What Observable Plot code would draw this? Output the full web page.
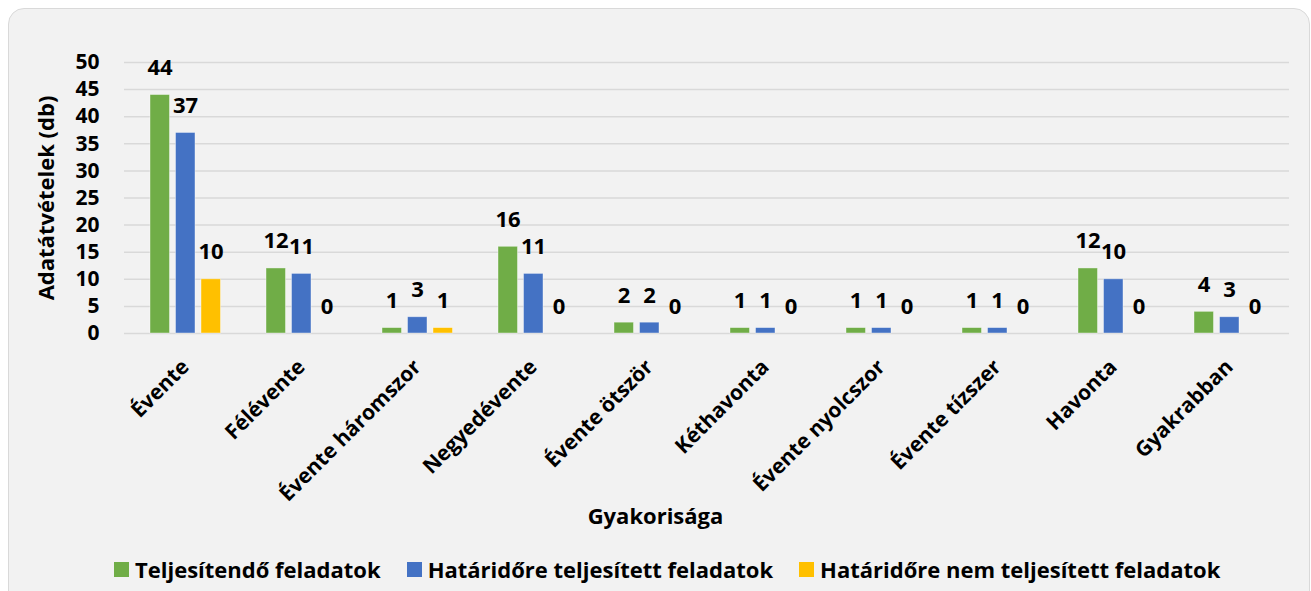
<!DOCTYPE html>
<html>
<head>
<meta charset="utf-8">
<script src="https://cdn.jsdelivr.net/npm/d3@7"></script>
<script src="https://cdn.jsdelivr.net/npm/@observablehq/plot@0.6"></script>
<style>
  html, body { margin: 0; padding: 0; background: #ffffff; width: 1311px; height: 591px; overflow: hidden; }
  #card { position: absolute; left: 8px; top: 8px; width: 1302px; height: 620px; box-sizing: border-box;
          border: 1px solid #d9d9d9; border-radius: 16px; background: #f2f2f2; }
  #chart { position: absolute; left: 0; top: 0; }
  #chart svg { background: transparent; overflow: visible; }
  #xtitle { position: absolute; left: 0; width: 1311px; top: 500px; text-align: center; line-height: 30px;
            font-family: "Open Sans", sans-serif; font-weight: 700; font-size: 22px; color: #000; }
  #legend { position: absolute; left: 114px; top: 554px; display: flex; align-items: center; line-height: 30px;
            font-family: "Open Sans", sans-serif; font-weight: 700; font-size: 22px; color: #000; white-space: nowrap; }
  .item { display: flex; align-items: center; margin-right: 26px; }
  .sw { width: 15px; height: 15px; margin-right: 6px; }
</style>
</head>
<body>
<div id="card"></div>
<div id="chart"></div>
<div id="xtitle"></div>
<div id="legend"></div>
<script>
const categories = ["Évente", "Félévente", "Évente háromszor", "Negyedévente", "Évente ötször",
  "Kéthavonta", "Évente nyolcszor", "Évente tízszer", "Havonta", "Gyakrabban"];
const seriesNames = ["Teljesítendő feladatok", "Határidőre teljesített feladatok", "Határidőre nem teljesített feladatok"];
const teljesitendo = [44, 12, 1, 16, 2, 1, 1, 1, 12, 4];
const hataridore = [37, 11, 3, 11, 2, 1, 1, 1, 10, 3];
const nemHataridore = [10, 0, 1, 0, 0, 0, 0, 0, 0, 0];
const yTicks = [0, 5, 10, 15, 20, 25, 30, 35, 40, 45, 50];
const xTitle = "Gyakorisága";
const yTitle = "Adatátvételek (db)";
const colors = ["#70ad47", "#4472c4", "#ffc000"];

const seriesValues = [teljesitendo, hataridore, nemHataridore];
const tables = seriesValues.map(vals => categories.map((c, i) => ({category: c, value: vals[i]})));

// bar slot offsets within each category band (band width ≈ 116.5px)
const insets = [[23, 73.5], [48.5, 48], [74, 22.5]];
const labelDx = [-25.5, 0, 25.5];

const font = "'Open Sans', sans-serif";

const marks = [
  Plot.gridY(yTicks, {stroke: "#d9d9d9", strokeOpacity: 1, strokeWidth: 1.5}),
  Plot.axisY(yTicks, {
    tickSize: 0, tickPadding: 25, fontSize: 21, fontWeight: "bold", fill: "#000",
    label: yTitle, labelAnchor: "center", labelOffset: 86, labelArrow: "none"
  }),
  Plot.axisX({
    tickSize: 0, tickRotate: -45, tickPadding: 30, fontSize: 21, fontWeight: "bold", fill: "#000",
    label: null
  })
];
tables.forEach((t, k) => {
  marks.push(Plot.barY(t, {
    x: "category", y: "value", fill: colors[k],
    insetLeft: insets[k][0], insetRight: insets[k][1],
    stroke: "#ffffff", strokeOpacity: 0.5, strokeWidth: 0.8
  }));
  marks.push(Plot.text(t, {
    x: "category", y: "value", text: d => String(d.value), dx: labelDx[k], dy: -20,
    lineAnchor: "bottom", fontSize: 22, fontWeight: "bold", fill: "#000"
  }));
});

const chart = Plot.plot({
  width: 1311,
  height: 550,
  marginLeft: 124,
  marginRight: 22,
  marginTop: 62,
  marginBottom: 217,
  style: {fontFamily: font, background: "transparent", color: "#000"},
  x: {domain: categories, padding: 0, label: null},
  y: {domain: [0, 50], label: null},
  marks
});
// axis title font size slightly larger than the tick labels
chart.querySelectorAll("[aria-label='y-axis label'] text, [aria-label='y-axis label']").forEach(el => el.setAttribute("font-size", 22));
document.getElementById("chart").appendChild(chart);
document.getElementById("xtitle").textContent = xTitle;

const legend = document.getElementById("legend");
seriesNames.forEach((name, k) => {
  const item = document.createElement("div");
  item.className = "item";
  const sw = document.createElement("div");
  sw.className = "sw";
  sw.style.background = colors[k];
  const tx = document.createElement("span");
  tx.textContent = name;
  item.appendChild(sw);
  item.appendChild(tx);
  legend.appendChild(item);
});
</script>
</body>
</html>
